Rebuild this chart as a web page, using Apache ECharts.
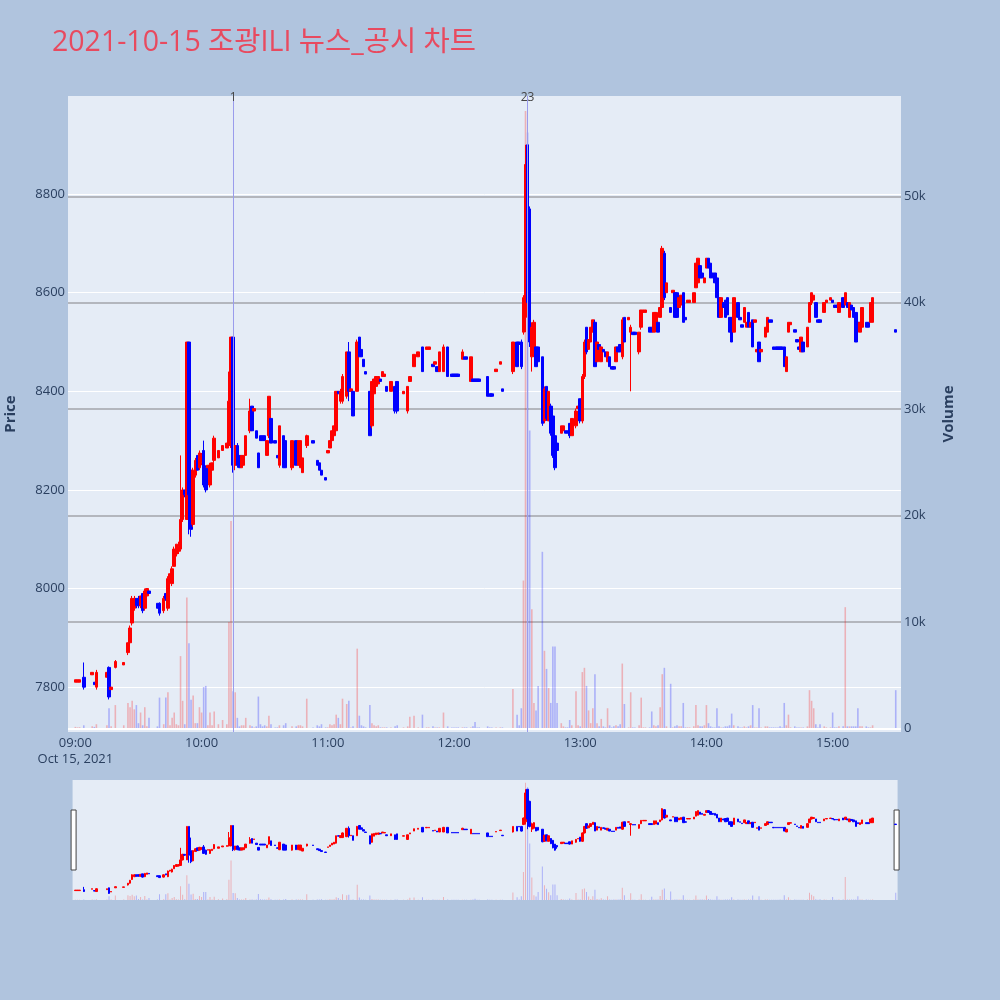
<!DOCTYPE html>
<html>
<head>
    <meta charset="UTF-8">
    <title>2021-10-15 조광ILI 뉴스_공시 차트</title>
    <script src="https://cdn.jsdelivr.net/npm/echarts@6/dist/echarts.min.js"></script>
    <style>
        html, body {margin: 0; padding: 0; background: #b0c4de;}
        #chart {width: 1000px; height: 1000px;}
    </style>
</head>
<body>
    <div id="chart"></div>

    <script>
        // 분봉 데이터 (09:00 기준 분 단위 오프셋)
        const tradeMin = [0, 1, 2, 4, 8, 9, 10, 15, 16, 17, 19, 23, 25, 26, 27, 28, 29, 30, 31, 32, 33, 34, 35, 39, 40, 42, 43, 44, 45, 46, 47, 48, 49, 50,
            51, 52, 53, 54, 55, 56, 57, 58, 59, 60, 61, 62, 63, 64, 65, 66, 68, 70, 72, 73, 74, 75, 76, 77, 78, 79, 80, 81, 83, 84, 85, 86, 87, 88, 89, 90,
            91, 92, 93, 95, 96, 97, 99, 100, 103, 105, 106, 107, 108, 110, 113, 115, 116, 117, 119, 120, 121, 122, 123, 124, 125, 126, 127, 129, 130,
            131, 132, 134, 135, 136, 137, 138, 140, 141, 142, 143, 144, 145, 146, 147, 148, 150, 152, 153, 156, 158, 159, 161, 163, 165, 167, 168, 170,
            171, 172, 173, 175, 177, 179, 180, 181, 182, 184, 185, 186, 188, 189, 190, 191, 192, 196, 197, 198, 200, 202, 203, 208, 210, 211, 212,
            213, 214, 215, 216, 217, 218, 219, 220, 222, 223, 224, 225, 226, 227, 228, 229, 231, 232, 233, 234, 235, 236, 238, 239, 240,
            241, 242, 243, 244, 245, 246, 247, 248, 249, 250, 251, 252, 253, 254, 255, 256, 257, 258, 259, 260, 261, 263, 264, 265, 266, 268, 269, 270,
            271, 273, 274, 275, 276, 277, 278, 279, 280, 281, 283, 284, 285, 286, 287, 288, 289, 290, 291, 292, 294, 295, 296, 297, 298, 299, 300,
            301, 302, 303, 304, 305, 306, 307, 308, 309, 310, 311, 312, 313, 315, 316, 317, 318, 319, 320, 321, 322, 323, 324, 325, 326, 328, 329, 330,
            331, 332, 333, 334, 335, 336, 337, 338, 339, 340, 342, 343, 344, 345, 346, 348, 349, 350, 351, 352, 353, 354, 356, 357, 359, 360,
            361, 362, 363, 365, 366, 367, 368, 369, 370, 371, 372, 373, 374, 376, 377, 378, 379, 390];

        const openP = [7810, 7810, 7810, 7820, 7825, 7810, 7800, 7820, 7840, 7795, 7840, 7845, 7870, 7890, 7930, 7960, 7980, 7980, 7965, 7990, 7960, 7985, 7995, 7970, 7970, 7955, 7990, 7960, 8020, 8010, 8045, 8070, 8075, 8080,
            8140, 8200, 8140, 8500, 8240, 8130, 8230, 8270, 8245, 8255, 8280, 8245, 8245, 8210, 8240, 8260, 8265, 8280, 8285, 8290, 8290, 8510, 8250, 8290, 8270, 8245, 8250, 8270, 8320, 8370, 8360, 8320, 8275, 8310, 8310, 8310,
            8270, 8310, 8345, 8300, 8270, 8250, 8310, 8300, 8245, 8300, 8250, 8245, 8235, 8290, 8300, 8260, 8255, 8240, 8225, 8275, 8285, 8300, 8310, 8320, 8400, 8380, 8380, 8390, 8480,
            8400, 8400, 8400, 8510, 8485, 8465, 8440, 8400, 8330, 8395, 8410, 8415, 8425, 8430, 8430, 8410, 8400, 8410, 8420, 8395, 8360, 8420, 8450, 8470, 8490, 8485, 8485, 8455,
            8455, 8450, 8440, 8440, 8490, 8435, 8435, 8435, 8435, 8465, 8470, 8470, 8420, 8425, 8425, 8425, 8425, 8430, 8395, 8395, 8440, 8455, 8405, 8440, 8500, 8500, 8500,
            8520, 8550, 8900, 8770, 8470, 8480, 8490, 8490, 8470, 8340, 8410, 8340, 8370, 8350, 8310, 8295, 8315, 8320, 8320, 8320, 8335, 8310, 8330, 8365, 8385,
            8340, 8430, 8530, 8485, 8500, 8520, 8540, 8460, 8495, 8460, 8485, 8480, 8460, 8470, 8450, 8450, 8460, 8490, 8495, 8470, 8550, 8545, 8520, 8520, 8520, 8480, 8530, 8560,
            8560, 8530, 8530, 8520, 8525, 8540, 8550, 8570, 8680, 8600, 8570, 8600, 8600, 8600, 8570, 8575, 8600, 8550, 8580, 8580, 8580, 8610, 8620, 8655, 8640, 8620, 8650,
            8670, 8660, 8640, 8640, 8630, 8590, 8550, 8580, 8585, 8590, 8550, 8550, 8520, 8580, 8550, 8535, 8540, 8530, 8560, 8530, 8545, 8540, 8480, 8500, 8480, 8510, 8520, 8545,
            8545, 8490, 8490, 8490, 8490, 8490, 8490, 8440, 8520, 8535, 8525, 8505, 8490, 8480, 8500, 8490, 8540, 8580, 8585, 8580, 8545, 8545, 8560, 8580, 8585, 8585,
            8575, 8575, 8560, 8590, 8575, 8580, 8550, 8575, 8570, 8560, 8540, 8520, 8530, 8540, 8540, 8540, 8540, 8525];

        const closeP = [7815, 7815, 7815, 7800, 7830, 7805, 7830, 7830, 7780, 7800, 7852, 7850, 7890, 7920, 7980, 7980, 7965, 7965, 7985, 7955, 7995, 8000, 7990, 7960, 7950, 7980, 7980, 8020, 8030, 8040, 8080, 8090, 8085, 8140,
            8200, 8190, 8500, 8190, 8120, 8240, 8260, 8240, 8275, 8270, 8210, 8200, 8250, 8250, 8255, 8305, 8280, 8290, 8295, 8380, 8510, 8250, 8290, 8250, 8245, 8270, 8270, 8310, 8360, 8320, 8365, 8305, 8245, 8300, 8300, 8300,
            8300, 8390, 8295, 8295, 8265, 8330, 8245, 8245, 8300, 8250, 8300, 8300, 8265, 8310, 8295, 8250, 8240, 8230, 8220, 8280, 8300, 8320, 8330, 8400, 8395, 8400, 8430, 8480, 8400,
            8405, 8350, 8500, 8470, 8470, 8450, 8435, 8310, 8420, 8425, 8430, 8430, 8420, 8440, 8435, 8400, 8420, 8360, 8360, 8400, 8410, 8430, 8475, 8480, 8440, 8490, 8490, 8450,
            8460, 8440, 8480, 8490, 8430, 8430, 8430, 8430, 8430, 8480, 8465, 8465, 8470, 8420, 8420, 8420, 8420, 8390, 8390, 8390, 8445, 8460, 8400, 8500, 8450, 8495, 8450,
            8590, 8860, 8580, 8500, 8530, 8540, 8450, 8460, 8335, 8405, 8345, 8400, 8315, 8270, 8245, 8280, 8330, 8330, 8315, 8315, 8310, 8345, 8360, 8370, 8340,
            8430, 8500, 8480, 8505, 8530, 8545, 8450, 8500, 8485, 8490, 8480, 8470, 8480, 8450, 8445, 8445, 8490, 8480, 8480, 8545, 8500, 8550, 8530, 8515, 8515, 8520, 8565, 8565,
            8565, 8520, 8520, 8560, 8560, 8520, 8570, 8690, 8590, 8620, 8560, 8605, 8550, 8550, 8590, 8595, 8540, 8545, 8585, 8585, 8600, 8660, 8670, 8630, 8630, 8630, 8670,
            8650, 8630, 8630, 8620, 8590, 8550, 8590, 8570, 8550, 8555, 8520, 8500, 8590, 8550, 8545, 8530, 8570, 8540, 8530, 8540, 8490, 8545, 8485, 8460, 8485, 8530, 8550, 8540,
            8540, 8485, 8485, 8485, 8485, 8485, 8450, 8470, 8540, 8540, 8520, 8500, 8485, 8510, 8480, 8530, 8580, 8600, 8595, 8550, 8540, 8540, 8580, 8585, 8590, 8580,
            8570, 8570, 8580, 8570, 8600, 8570, 8580, 8565, 8550, 8500, 8530, 8540, 8570, 8530, 8530, 8580, 8590, 8520];

        const lowP = [7810, 7810, 7810, 7795, 7825, 7805, 7795, 7820, 7775, 7795, 7838, 7845, 7865, 7885, 7925, 7955, 7960, 7960, 7960, 7950, 7955, 7985, 7990, 7960, 7945, 7950, 7975, 7955, 8015, 8005, 8045, 8065, 8070, 8075,
            8135, 8185, 8140, 8110, 8105, 8125, 8225, 8240, 8240, 8250, 8205, 8195, 8245, 8205, 8240, 8255, 8265, 8280, 8285, 8285, 8285, 8235, 8240, 8245, 8245, 8245, 8250, 8270, 8315, 8320, 8360, 8305, 8245, 8300, 8300, 8300,
            8270, 8305, 8295, 8295, 8265, 8245, 8245, 8245, 8240, 8250, 8250, 8245, 8235, 8285, 8295, 8250, 8240, 8230, 8220, 8275, 8285, 8300, 8310, 8315, 8395, 8375, 8375, 8385, 8380,
            8400, 8350, 8400, 8470, 8470, 8450, 8435, 8310, 8325, 8395, 8410, 8415, 8420, 8430, 8430, 8400, 8400, 8355, 8355, 8395, 8355, 8420, 8450, 8470, 8440, 8485, 8485, 8450,
            8455, 8440, 8440, 8440, 8430, 8430, 8430, 8430, 8430, 8465, 8465, 8465, 8420, 8420, 8420, 8420, 8420, 8390, 8390, 8390, 8440, 8455, 8400, 8435, 8450, 8495, 8445,
            8515, 8520, 8470, 8490, 8440, 8470, 8450, 8455, 8330, 8335, 8340, 8340, 8310, 8265, 8240, 8260, 8315, 8320, 8315, 8315, 8305, 8310, 8325, 8365, 8335,
            8335, 8425, 8475, 8485, 8500, 8520, 8450, 8460, 8485, 8460, 8480, 8470, 8460, 8450, 8445, 8445, 8460, 8480, 8480, 8465, 8500, 8545, 8400, 8515, 8515, 8475, 8525, 8560,
            8560, 8520, 8520, 8520, 8525, 8520, 8550, 8565, 8585, 8600, 8560, 8600, 8550, 8550, 8570, 8575, 8540, 8545, 8580, 8580, 8580, 8610, 8620, 8630, 8630, 8620, 8650,
            8650, 8630, 8630, 8620, 8590, 8550, 8550, 8570, 8550, 8555, 8520, 8500, 8520, 8550, 8545, 8530, 8540, 8530, 8530, 8530, 8490, 8540, 8480, 8460, 8480, 8510, 8520, 8540,
            8540, 8485, 8485, 8485, 8485, 8485, 8450, 8440, 8520, 8535, 8520, 8500, 8485, 8480, 8480, 8490, 8540, 8575, 8585, 8550, 8540, 8540, 8560, 8580, 8585, 8580,
            8570, 8570, 8560, 8570, 8575, 8570, 8550, 8565, 8550, 8500, 8530, 8520, 8530, 8530, 8530, 8540, 8540, 8520];

        const highP = [7815, 7815, 7815, 7850, 7830, 7810, 7835, 7830, 7842, 7800, 7855, 7850, 7890, 7925, 7985, 7985, 7980, 7985, 7985, 7990, 8000, 8000, 7995, 7970, 7972, 7985, 7990, 8025, 8030, 8045, 8085, 8090, 8095, 8270,
            8205, 8200, 8500, 8500, 8380, 8245, 8265, 8270, 8280, 8275, 8300, 8250, 8250, 8255, 8255, 8310, 8280, 8290, 8295, 8440, 8510, 8510, 8290, 8295, 8270, 8270, 8270, 8310, 8385, 8370, 8365, 8320, 8275, 8310, 8310, 8310,
            8300, 8390, 8345, 8300, 8270, 8330, 8310, 8300, 8300, 8300, 8300, 8300, 8265, 8312, 8300, 8260, 8255, 8240, 8225, 8280, 8300, 8320, 8330, 8400, 8400, 8405, 8435, 8480, 8500,
            8405, 8400, 8505, 8510, 8485, 8465, 8440, 8400, 8420, 8425, 8430, 8430, 8425, 8440, 8435, 8410, 8420, 8410, 8420, 8400, 8410, 8430, 8475, 8480, 8490, 8490, 8490, 8455,
            8460, 8450, 8480, 8495, 8490, 8435, 8435, 8435, 8435, 8485, 8470, 8470, 8470, 8425, 8425, 8425, 8425, 8430, 8395, 8395, 8445, 8460, 8405, 8500, 8500, 8500, 8505,
            8595, 8900, 8900, 8775, 8540, 8545, 8490, 8490, 8470, 8410, 8410, 8400, 8375, 8355, 8310, 8300, 8330, 8330, 8320, 8320, 8335, 8345, 8365, 8370, 8385,
            8435, 8505, 8530, 8505, 8530, 8545, 8545, 8500, 8495, 8490, 8485, 8480, 8480, 8470, 8450, 8450, 8490, 8490, 8495, 8550, 8550, 8550, 8535, 8520, 8520, 8520, 8565, 8565,
            8565, 8530, 8530, 8560, 8560, 8540, 8570, 8695, 8685, 8620, 8570, 8605, 8600, 8600, 8590, 8595, 8600, 8550, 8585, 8585, 8600, 8660, 8670, 8655, 8640, 8630, 8670,
            8670, 8660, 8640, 8640, 8630, 8590, 8590, 8580, 8585, 8590, 8550, 8550, 8590, 8580, 8550, 8535, 8570, 8540, 8560, 8540, 8545, 8545, 8485, 8500, 8485, 8530, 8550, 8545,
            8545, 8490, 8490, 8490, 8490, 8490, 8490, 8470, 8540, 8540, 8525, 8505, 8490, 8510, 8500, 8530, 8580, 8600, 8595, 8580, 8545, 8545, 8580, 8585, 8590, 8585,
            8575, 8575, 8580, 8590, 8600, 8580, 8580, 8575, 8570, 8560, 8540, 8540, 8570, 8540, 8540, 8580, 8590, 8525];

        const volume = [150, 100, 120, 300, 200, 150, 400, 300, 1900, 200, 2200, 300, 2400, 2000, 2600, 1800, 2200, 500, 1500, 300, 2000, 200, 1000, 200, 2900, 400, 2900, 3400, 300, 1000, 1500, 400, 300, 6800,
            2600, 400, 12300, 8000, 2700, 3100, 500, 500, 2000, 1500, 3900, 4000, 300, 1500, 300, 1600, 400, 800, 400, 10000, 19500, 3500, 3400, 1000, 200, 300, 300, 1000, 300, 200, 100, 200, 3000, 400, 200, 300,
            200, 1200, 400, 100, 100, 300, 300, 500, 200, 200, 300, 300, 200, 2800, 100, 300, 200, 400, 100, 100, 400, 300, 400, 1300, 1000, 400, 2800, 2300, 2600,
            100, 200, 7500, 1200, 300, 200, 100, 2200, 500, 300, 200, 300, 100, 100, 100, 100, 100, 200, 300, 100, 200, 1100, 1200, 100, 1300, 100, 100, 200,
            100, 100, 100, 1500, 200, 100, 100, 100, 100, 100, 100, 100, 100, 200, 600, 100, 100, 200, 100, 100, 100, 100, 100, 3700, 1300, 300, 1900,
            13900, 58000, 56000, 28000, 11200, 2400, 1700, 4000, 16600, 7300, 5600, 3800, 2400, 7700, 7700, 2400, 500, 200, 100, 100, 800, 300, 3500, 300, 200,
            5300, 5700, 4000, 1700, 500, 1900, 5100, 500, 200, 900, 200, 100, 1900, 300, 100, 200, 300, 200, 400, 6100, 2300, 100, 3400, 100, 100, 300, 2900, 100,
            100, 100, 1600, 300, 200, 300, 2000, 5100, 5700, 200, 4200, 100, 200, 300, 200, 200, 2400, 100, 100, 100, 200, 2200, 300, 200, 200, 300, 2200,
            500, 200, 100, 100, 1900, 200, 100, 100, 200, 200, 300, 1400, 300, 200, 100, 100, 200, 100, 200, 300, 2200, 100, 100, 1900, 100, 200, 200, 100,
            100, 100, 100, 100, 200, 100, 2400, 300, 1300, 100, 200, 100, 100, 100, 100, 200, 3600, 2600, 1900, 400, 100, 400, 200, 100, 100, 1500,
            100, 100, 200, 200, 11400, 200, 200, 200, 200, 200, 1900, 200, 200, 200, 100, 100, 300, 3600];

        // 뉴스/공시 표시
        const newsTimes = ['10:15', '12:35'];
        const newsIds = ['1', '23'];

        // 축 범위와 눈금 라벨
        const priceRange = [7709, 8999];
        const volRange = [-330, 59420];
        const hourLabels = ['09:00', '10:00', '11:00', '12:00', '13:00', '14:00', '15:00'];
        const dateLabel = 'Oct 15, 2021';

        const UP = '#ff0000', DOWN = '#0000ff';
        const FONT = "'Open Sans', 'Noto Sans CJK KR', sans-serif";
        const TXT = '#2a3f5f';

        // 08:57 ~ 15:32 분 단위 카테고리
        const pad = n => (n < 10 ? '0' : '') + n;
        const cats = [];
        for (let t = 8 * 60 + 57; t <= 15 * 60 + 32; t++) cats.push(pad(Math.floor(t / 60)) + ':' + pad(t % 60));
        const base = cats.indexOf('09:00');

        const candleData = cats.map(() => '-');
        const volData = cats.map(() => '-');
        tradeMin.forEach((m, i) => {
            const idx = base + m;
            candleData[idx] = [openP[i], closeP[i], lowP[i], highP[i]];
            const up = closeP[i] >= openP[i];
            volData[idx] = {value: volume[i], itemStyle: {color: up ? 'rgba(255,0,0,0.25)' : 'rgba(0,0,255,0.25)'}};
        });

        const chart = echarts.init(document.getElementById('chart'));
        chart.setOption({
            animation: false,
            backgroundColor: '#b0c4de',
            textStyle: {fontFamily: FONT},
            title: {
                text: '2021-10-15 조광ILI 뉴스_공시 차트',
                left: 47, top: 24,
                textStyle: {fontSize: 28.5, fontWeight: 'normal', color: '#e84a5f', fontFamily: FONT}
            },
            grid: [
                {left: 68, right: 99, top: 96, height: 636, show: true, backgroundColor: '#e5ecf6', borderWidth: 0, outerBoundsMode: 'none', containLabel: false},
                {left: 68, right: 99, top: 780, height: 120, show: false, outerBoundsMode: 'none', containLabel: false}
            ],
            xAxis: [
                {
                    type: 'category', gridIndex: 0, data: cats, boundaryGap: true,
                    axisLine: {show: false}, axisTick: {show: false}, splitLine: {show: false},
                    axisLabel: {
                        interval: (i, v) => hourLabels.includes(v),
                        formatter: v => v === hourLabels[0] ? v + '\n' + dateLabel : v,
                        color: TXT, fontSize: 13, margin: 3, lineHeight: 16
                    }
                },
                {type: 'category', gridIndex: 1, data: cats, boundaryGap: true, show: false}
            ],
            yAxis: [
                {
                    type: 'value', gridIndex: 0, position: 'left', min: priceRange[0], max: priceRange[1], splitNumber: 6,
                    name: 'Price', nameLocation: 'middle', nameGap: 50, nameRotate: 90,
                    nameTextStyle: {color: TXT, fontSize: 15, fontWeight: 'bold'},
                    axisLine: {show: false}, axisTick: {show: false},
                    axisLabel: {color: TXT, fontSize: 13, margin: 3, showMinLabel: false, showMaxLabel: false, formatter: v => String(v)},
                    splitLine: {show: true, showMinLine: false, showMaxLine: false, lineStyle: {color: '#ffffff', width: 1}}
                },
                {
                    type: 'value', gridIndex: 0, position: 'right', min: volRange[0], max: volRange[1], splitNumber: 6,
                    name: 'Volume', nameLocation: 'middle', nameGap: 40, nameRotate: 90,
                    nameTextStyle: {color: TXT, fontSize: 15, fontWeight: 'bold'},
                    axisLine: {show: false}, axisTick: {show: false},
                    axisLabel: {
                        color: TXT, fontSize: 13, margin: 3, showMinLabel: false, showMaxLabel: false,
                        formatter: v => v === 0 ? '0' : (v / 1000) + 'k'
                    },
                    splitLine: {show: true, showMinLine: false, showMaxLine: false, lineStyle: {color: '#a2a5aa', width: 1.5}}
                },
                {type: 'value', gridIndex: 1, min: priceRange[0], max: priceRange[1], show: false},
                {type: 'value', gridIndex: 1, min: 0, max: volRange[1], show: false}
            ],
            dataZoom: [{
                type: 'slider', xAxisIndex: [0, 1], start: 0, end: 100,
                left: 72, right: 103, top: 780, height: 120, z: 1,
                backgroundColor: '#e5ecf6', borderColor: 'rgba(0,0,0,0)', fillerColor: 'rgba(0,0,0,0)',
                showDataShadow: false, showDetail: false, brushSelect: false, moveHandleSize: 0,
                handleIcon: 'path://M0,0H1V12H0Z', handleSize: '50%',
                handleStyle: {color: '#ffffff', borderColor: '#444444', borderWidth: 1},
                emphasis: {handleStyle: {color: '#ffffff', borderColor: '#444444'}}
            }],
            series: [
                {
                    name: 'Volume', type: 'bar', xAxisIndex: 0, yAxisIndex: 1, data: volData,
                    barWidth: 1.6, silent: true, z: 2,
                    markLine: {
                        silent: true, symbol: 'none', label: {show: false},
                        lineStyle: {color: '#ffffff', width: 2, type: 'solid'},
                        data: [{yAxis: 0}]
                    }
                },
                {
                    name: 'Price', type: 'candlestick', xAxisIndex: 0, yAxisIndex: 0, data: candleData,
                    barWidth: 3, z: 3,
                    itemStyle: {color: UP, color0: DOWN, borderColor: UP, borderColor0: DOWN, borderWidth: 1},
                    markLine: {
                        silent: true, symbol: 'none',
                        lineStyle: {color: '#9a9cec', width: 1, type: 'solid', opacity: 1},
                        label: {show: true, position: 'end', distance: -8, color: '#444', fontSize: 12},
                        data: newsTimes.map((t, i) => ({xAxis: t, label: {formatter: newsIds[i]}}))
                    }
                },
                {
                    type: 'bar', xAxisIndex: 1, yAxisIndex: 3, data: volData,
                    barWidth: 1, silent: true, z: 2
                },
                {
                    type: 'candlestick', xAxisIndex: 1, yAxisIndex: 2, data: candleData,
                    barWidth: 2, silent: true, z: 3,
                    itemStyle: {color: UP, color0: DOWN, borderColor: UP, borderColor0: DOWN, borderWidth: 1}
                }
            ]
        });
    </script>
</body>
</html>
